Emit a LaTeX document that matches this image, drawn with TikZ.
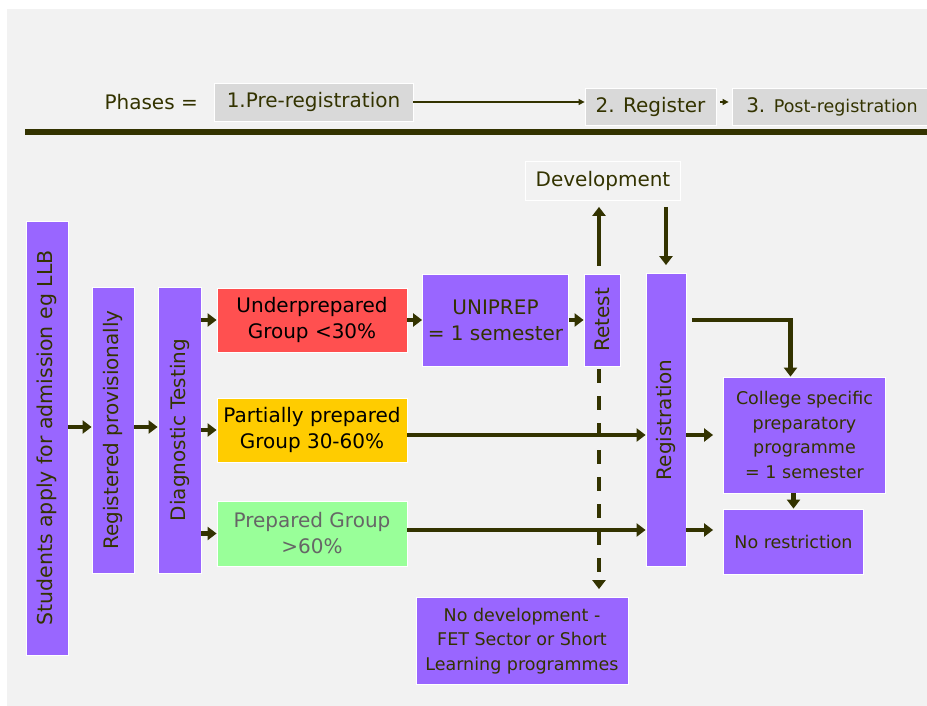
\documentclass[tikz,border=0pt]{standalone}
\usepackage{fontspec}
\setmainfont{DejaVu Sans}
\usepackage{xcolor}
\usepackage{tikz}
\usetikzlibrary{arrows.meta, positioning, calc}

\definecolor{bggray}{HTML}{F2F2F2}
\definecolor{phasegray}{HTML}{D9D9D9}
\definecolor{lilac}{HTML}{9966FF}
\definecolor{grpred}{HTML}{FF5050}
\definecolor{grpyellow}{HTML}{FFCC00}
\definecolor{grpgreen}{HTML}{99FF99}
\definecolor{darkolive}{HTML}{333300}

\begin{document}
\begin{tikzpicture}[x=1pt, y=-1pt]
    \tikzstyle{block} = [rectangle, draw=white, line width=0.8pt, fill=lilac, text=darkolive, align=center, inner sep=0pt, font=\fontsize{20}{26}\selectfont]
    \tikzstyle{vblock} = [block, rotate=90]
    \tikzstyle{smallblock} = [block, font=\fontsize{17.5}{24.5}\selectfont]
    \tikzstyle{phasebox} = [block, fill=phasegray]
    \tikzstyle{arr} = [draw=darkolive, line width=4.5pt, -{Triangle[length=9pt,width=13pt]}]
    \tikzstyle{thinarr} = [draw=darkolive, line width=1.2pt, -{Triangle[length=6pt,width=6pt]}]

    % background
    \useasboundingbox (0,0) rectangle (927,706);
    \fill[white] (0,0) rectangle (927,706);
    \fill[bggray] (7,9) rectangle (927,706);

    % phases
    \node[anchor=west, text=darkolive, font=\fontsize{20}{24}\selectfont] (phases) at (101,102) {Phases =};
    \node[phasebox, minimum width=199, minimum height=38] (prereg) at (313.5,102) {1.Pre-registration};
    \node[phasebox, minimum width=131, minimum height=37] (register) at (650.5,106.5) {2. Register};
    \node[phasebox, minimum width=200, minimum height=37] (post) at (832,106.5) {3. {\fontsize{17.5}{24}\selectfont Post-registration}};
    \draw[darkolive, line width=6pt] (25,132) -- (927,132);

    % row helpers
    \coordinate (startrow) at (0,427);
    \coordinate (midrow) at (0,435);
    \coordinate (lowrow) at (0,530);

    % Step 1
    \node[vblock, minimum width=434, minimum height=42, font=\fontsize{20.5}{24}\selectfont] (students) at (47,438) {Students apply for admission eg LLB};

    % Step 2
    \node[vblock, minimum width=286, minimum height=42] (regprov) at (113,430) {Registered provisionally};

    % Step 3
    \node[vblock, minimum width=286, minimum height=43] (diag) at (179.5,430) {Diagnostic Testing};

    % Step 4 - groups
    \node[block, fill=grpred, text=black, minimum width=190, minimum height=64] (under) at (312,320) {Underprepared\\Group <30\%};
    \node[block, fill=grpyellow, text=black, minimum width=190, minimum height=64] (partial) at (312,430) {Partially prepared\\Group 30-60\%};
    \node[block, fill=grpgreen, text=black!60, minimum width=190, minimum height=65] (prepared) at (312,533.5) {Prepared Group\\>60\%};

    % Step 5
    \node[block, minimum width=146, minimum height=92] (uniprep) at (495.5,320) {UNIPREP\\= 1 semester};
    \node[vblock, minimum width=92, minimum height=36] (retest) at (602,320) {Retest};
    \node[block, fill=bggray, minimum width=155, minimum height=39] (dev) at (603,181) {Development};
    \node[smallblock, minimum width=212, minimum height=87] (nodev) at (522,641) {No development -\\FET Sector or Short\\Learning programmes};

    % Step 6
    \node[vblock, minimum width=293, minimum height=40] (registration) at (666,420) {Registration};
    \node[smallblock, minimum width=162, minimum height=116] (college) at (804.5,435) {College specific\\preparatory\\programme\\= 1 semester};
    \node[smallblock, minimum width=140, minimum height=65] (norestr) at (793.5,541.5) {No restriction};

    % phase arrows
    \draw[thinarr] (prereg.east) -- (prereg.east -| register.west);
    \draw[thinarr, shorten <=4pt, shorten >=3pt] (register.east |- prereg) -- (post.west |- prereg);

    % flow
    \draw[arr] (students.south |- startrow) -- (regprov.north |- startrow);
    \draw[arr] (regprov.south |- startrow) -- (diag.north |- startrow);
    \draw[arr] (diag.south |- under) -- (under.west);
    \draw[arr] (diag.south |- partial) -- (partial.west);
    \draw[arr] (diag.south |- prepared) -- (prepared.west);
    \draw[arr] (under.east) -- (under.east -| uniprep.west);
    \draw[arr] (uniprep.east) -- (uniprep.east -| retest.north);
    \draw[arr, shorten <=8pt, shorten >=6pt] ([xshift=-3pt]retest.east) -- ([xshift=-3pt]retest.east |- dev.south);
    \draw[arr, shorten <=6pt, shorten >=8pt] (dev.south -| registration) -- (registration.east);
    \draw[arr, -{Triangle[length=9pt,width=13pt]}, dash pattern=on 14pt off 13pt, shorten <=3pt, shorten >=8pt] ([xshift=-3pt]retest.west) -- ([xshift=-3pt]retest.west |- nodev.north);
    \draw[arr] (partial.east |- midrow) -- (registration.north |- midrow);
    \draw[arr] (prepared.east |- lowrow) -- (registration.north |- lowrow);
    \draw[arr, shorten <=6pt] (registration.south |- under) -| ([xshift=-14pt]college.north);
    \draw[arr, shorten >=10pt] (registration.south |- midrow) -- (college.west |- midrow);
    \draw[arr, shorten >=10pt] (registration.south |- lowrow) -- (norestr.west |- lowrow);
    \draw[arr] (college.south -| norestr) -- (norestr.north);
\end{tikzpicture}
\end{document}
